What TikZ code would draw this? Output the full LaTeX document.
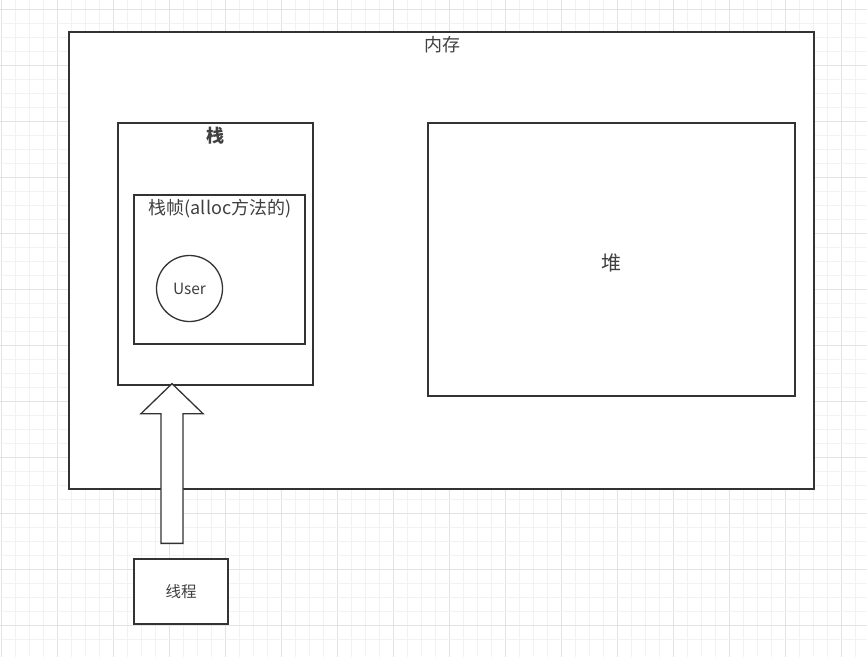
\documentclass[tikz,border=0pt]{standalone}
\usepackage{fontspec}
\setmainfont{Noto Sans CJK SC}
\usetikzlibrary{calc}
\definecolor{gridminor}{HTML}{F2F2F2}
\definecolor{gridmajor}{HTML}{E3E3E3}
\definecolor{ink}{HTML}{333333}
\definecolor{txt}{HTML}{404040}
\tikzset{
  box/.style={draw=ink, fill=white, line width=1.3pt, rectangle, inner sep=0pt},
  lbl/.style={text=txt, inner sep=0pt, font=\fontsize{18}{21}\selectfont},
}
\begin{document}
\begin{tikzpicture}[x=1pt,y=-1pt]
\useasboundingbox (0,0) rectangle (867,657);
\fill[white] (0,0) rectangle (867,657);
% grid
\foreach \k in {0,...,61} {
  \pgfmathtruncatemacro{\m}{mod(\k,4)}
  \ifnum\m=0
    \draw[gridmajor, line width=0.8pt] (1+14*\k,0) -- (1+14*\k,657);
  \else
    \draw[gridminor, line width=0.8pt] (1+14*\k,0) -- (1+14*\k,657);
  \fi
}
\foreach \k in {0,...,46} {
  \pgfmathtruncatemacro{\m}{mod(\k,4)}
  \ifnum\m=1
    \draw[gridmajor, line width=0.8pt] (0,-5+14*\k) -- (867,-5+14*\k);
  \else
    \draw[gridminor, line width=0.8pt] (0,-5+14*\k) -- (867,-5+14*\k);
  \fi
}
% memory
\node[box, minimum width=745pt, minimum height=457pt] (mem) at (441.5,260.5) {};
\node[lbl] (memlbl) at (442,45) {内存};
% stack
\node[box, minimum width=195pt, minimum height=262pt] (stack) at (215.5,254) {};
\node[lbl, font=\fontsize{18}{21}\selectfont\bfseries] (stacklbl) at (215,136) {栈};
% frame
\node[box, minimum width=171pt, minimum height=149pt] (frame) at (219.5,269.5) {};
\node[lbl] (framelbl) at (220,209) {栈帧(alloc方法的)};
% user
\node[draw=ink, fill=white, line width=1.3pt, circle, minimum size=66pt, inner sep=0pt, text=txt, font=\fontsize{15.5}{18}\selectfont] (user) at (189.5,288.5) {User};
% heap
\node[box, minimum width=367pt, minimum height=273pt] (heap) at (611.5,259.5) {};
\node[lbl, font=\fontsize{20}{23}\selectfont] (heaplbl) at (611,263) {堆};
% thread
\node[box, minimum width=94pt, minimum height=65pt, text=txt, font=\fontsize{15.5}{18}\selectfont] (thread) at (181,591.5) {线程};
% block arrow from thread to stack
\coordinate (tip) at ($(stack.south)+(-43.5,-2)$);
\coordinate (tail) at ($(thread.north)+(-9,-15)$);
\draw[draw=ink, fill=white, line width=1.3pt, line join=miter]
  (tip) -- ($(tip)+(31,30)$) -- ($(tip)+(11,30)$) -- (tail-|{$(tip)+(11,0)$}) -- ($(tail)+(-11,0)$) -- ($(tip)+(-11,30)$) -- ($(tip)+(-31,30)$) -- cycle;
\end{tikzpicture}
\end{document}
